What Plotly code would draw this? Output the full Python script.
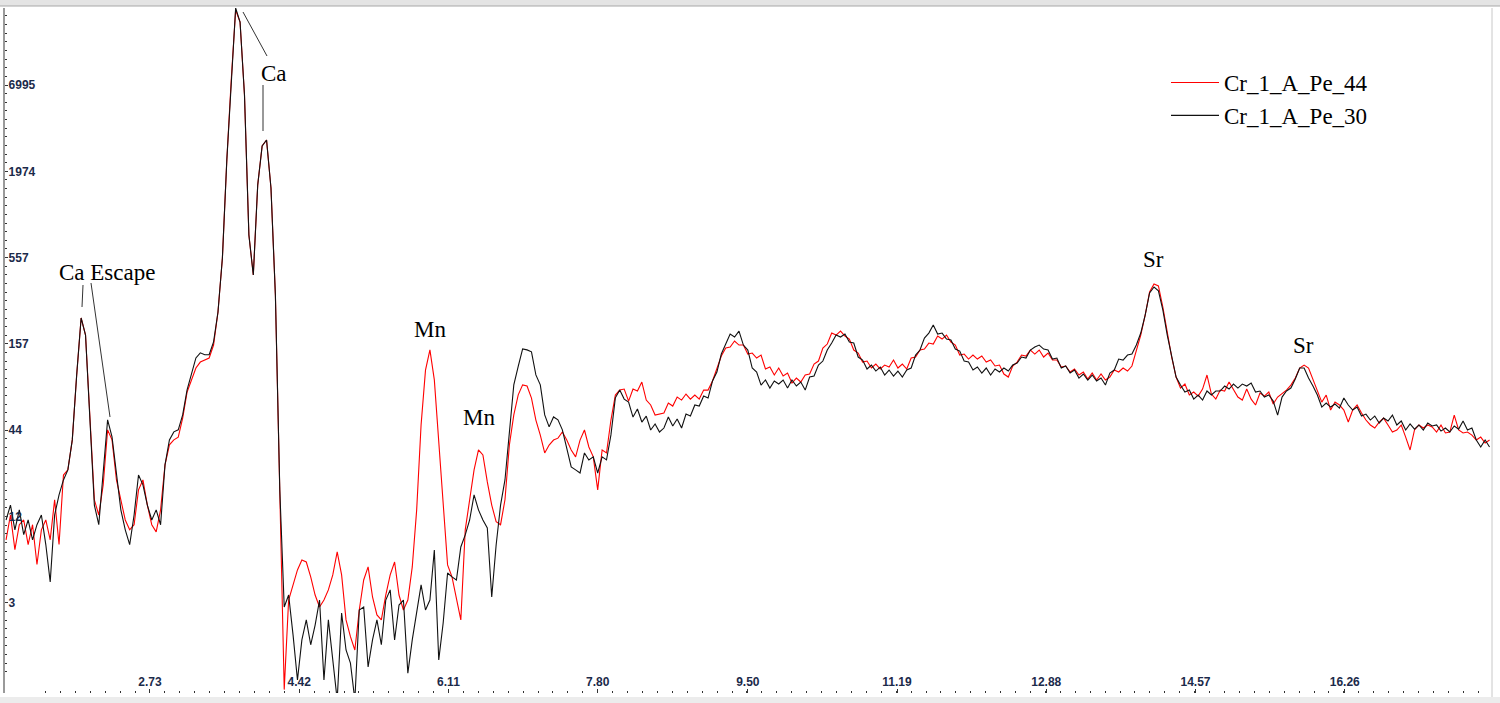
import numpy as np
import plotly.graph_objects as go

# ── spectrum channels (keV) ───────────────────────────────────────────────
E_START = 1.10
E_STEP = 0.05

# counts, sample Cr_1_A_Pe_30 (black)
PE_30 = [
    11.9, 14.8, 10.3, 13.8, 9.6, 11.9, 8.9, 11.1, 12.8, 8.3, 4.8, 12.8, 17.2, 21.4,
    24.8, 38.5, 100, 230, 179, 48.0, 14.8, 11.1, 23.0, 51.6, 40.2, 23.0, 13.8, 10.3,
    8.3, 12.8, 23.0, 19.9, 14.8, 11.9, 13.8, 11.1, 26.7, 38.5, 43.3, 44.6, 55.5, 80.1,
    99.8, 128, 138, 134, 134, 162, 251, 554, 2330, 7527, 21630, 17617, 6041, 776,
    432, 1615, 2861, 3124, 1546, 322, 18.5, 3.32, 3.96, 2.21, 1.14, 2.05, 2.75, 1.91,
    2.55, 3.68, 1.14, 2.75, 1.53, 0.85, 3.04, 1.77, 1.46, 0.85, 3.18, 3.32, 1.38, 2.05,
    2.75, 1.91, 3.68, 4.27, 2.05, 3.42, 3.68, 1.26, 2.05, 3.04, 4.59, 3.18, 3.68, 7.67,
    1.53, 2.63, 5.47, 5.17, 4.94, 8.01, 9.56, 11.9, 17.2, 13.8, 11.9, 10.6, 3.85, 8.25,
    14.8, 21.4, 44.6, 86.2, 113, 146, 144, 140, 99.8, 86.2, 55.5, 46.6, 53.9, 51.6,
    44.6, 33.2, 25.9, 24.8, 23.7, 31.8, 28.7, 30.0, 23.7, 30.0, 28.7, 41.4, 71.3, 80.1,
    70.0, 67.0, 53.8, 60.5, 50.0, 54.6, 44.5, 48.6, 43.2, 45.8, 53.8, 47.2, 52.3, 45.8,
    56.2, 54.6, 64.2, 63.2, 73.2, 71.1, 91.2, 104.1, 135.5, 156.9, 181.7, 173.9, 189.8, 154.6,
    143.7, 110.4, 104.1, 86.0, 92.6, 82.3, 91.2, 87.3, 92.6, 82.3, 92.6, 84.8, 89.9, 79.9,
    96.7, 98.2, 115.3, 122.3, 143.7, 159.2, 179.0, 173.9, 181.7, 161.6, 159.2, 129.7, 124.1, 108.8,
    115.3, 105.6, 112.0, 99.6, 107.2, 98.2, 105.6, 96.7, 107.2, 110.4, 133.5, 143.7, 171.3, 184.3,
    207.3, 181.7, 184.3, 168.8, 166.4, 145.8, 141.6, 122.3, 120.5, 107.2, 112.0, 102.6, 110.4, 99.6,
    108.8, 104.1, 110.4, 105.6, 115.3, 118.8, 129.7, 127.8, 143.7, 150.2, 154.6, 145.8, 143.7, 125.9,
    127.8, 110.4, 113.7, 102.6, 107.2, 95.3, 101.1, 92.6, 99.6, 91.2, 95.3, 86.0, 102.6, 107.2,
    125.9, 124.1, 133.5, 135.5, 154.6, 184.3, 240, 332, 362, 342, 259, 179.0, 127.8, 96.7,
    86.0, 77.6, 79.9, 70.0, 74.3, 69.0, 78.8, 74.3, 78.8, 78.8, 84.8, 81.1, 87.3, 82.3,
    87.3, 84.8, 88.6, 77.6, 78.8, 72.1, 74.3, 68.0, 55.4, 72.1, 78.8, 82.3, 93.9, 110.4,
    110.4, 95.3, 84.8, 74.3, 62.3, 66.1, 62.3, 65.1, 61.4, 71.1, 64.2, 59.6, 62.3, 54.6,
    56.2, 51.5, 54.6, 49.3, 53.0, 50.8, 55.4, 47.9, 50.8, 44.5, 48.6, 45.1, 47.9, 44.5,
    49.3, 47.2, 47.9, 43.8, 45.8, 43.2, 47.2, 45.1, 50.8, 44.5, 45.8, 38.4, 34.7, 38.4, 34.7,
]

# counts, sample Cr_1_A_Pe_44 (red)
PE_44 = [
    8.9, 12.8, 7.7, 11.1, 11.9, 8.3, 11.1, 6.2, 10.3, 11.9, 8.9, 16.0, 8.3, 23.0,
    24.8, 38.5, 100, 230, 179, 48.0, 16.0, 12.8, 19.9, 44.6, 38.5, 21.4, 16.0, 11.9,
    10.3, 11.1, 18.5, 21.4, 14.8, 11.1, 10.0, 13.8, 26.7, 35.8, 38.5, 40.1, 53.0, 77.6,
    92.6, 110.4, 120.5, 124.1, 127.8, 154.6, 251, 554, 2330, 7527, 21005, 17617, 6041, 776,
    432, 1615, 2861, 3124, 1546, 322, 21.4, 0.99, 3.68, 4.59, 5.72, 6.62, 6.43, 5.17,
    3.96, 3.32, 3.68, 4.27, 5.32, 7.45, 5.32, 2.75, 2.15, 1.77, 3.18, 4.94, 5.98, 3.85,
    2.96, 2.75, 3.96, 5.32, 6.43, 3.96, 3.18, 3.68, 5.98, 13.8, 48.0, 107, 144, 92.8,
    35.8, 13.8, 6.16, 5.17, 3.68, 2.75, 10.3, 16.0, 24.8, 33.2, 30.9, 20.8, 14.8, 11.6,
    11.1, 16.0, 35.8, 55.5, 74.5, 86.2, 84.8, 71.1, 51.5, 41.3, 31.8, 35.7, 38.4, 39.5,
    43.2, 38.4, 33.2, 30.0, 38.4, 44.5, 34.7, 30.0, 18.5, 33.2, 31.8, 51.5, 74.3, 79.9,
    81.1, 68.0, 81.1, 78.8, 89.9, 69.0, 64.2, 55.4, 56.2, 57.1, 66.1, 63.2, 72.1, 69.0,
    75.4, 70.0, 74.3, 70.0, 79.9, 79.9, 91.2, 110.4, 131.6, 148.0, 150.2, 164.0, 154.6, 154.6,
    135.5, 137.5, 127.8, 133.5, 108.8, 112.0, 99.6, 110.4, 98.2, 102.6, 88.6, 95.3, 89.9, 99.6,
    101.1, 117.0, 122.3, 148.0, 156.9, 184.3, 179.0, 189.8, 176.4, 168.8, 143.7, 137.5, 120.5, 122.3,
    110.4, 117.0, 108.8, 115.3, 112.0, 124.1, 110.4, 117.0, 108.8, 127.8, 129.7, 143.7, 145.8, 159.2,
    156.9, 176.4, 168.8, 179.0, 161.6, 154.6, 133.5, 135.5, 125.9, 133.5, 125.9, 131.6, 120.5, 124.1,
    113.7, 115.3, 101.1, 96.7, 113.7, 120.5, 133.5, 131.6, 143.7, 135.5, 143.7, 129.7, 137.5, 124.1,
    124.1, 112.0, 113.7, 104.1, 108.8, 99.6, 104.1, 93.9, 102.6, 92.6, 101.1, 92.6, 96.7, 107.2,
    104.1, 110.4, 105.6, 113.7, 143.7, 179.0, 240, 337, 378, 368, 270, 184.3, 129.7, 96.7,
    82.3, 87.3, 74.3, 77.6, 73.2, 81.1, 99.6, 75.4, 70.0, 79.9, 78.8, 89.9, 81.1, 72.1,
    69.0, 81.1, 70.0, 64.2, 76.5, 73.2, 77.6, 65.1, 72.1, 75.4, 79.9, 86.0, 95.3, 110.4,
    115.3, 110.4, 92.6, 77.6, 67.0, 74.3, 59.6, 67.0, 64.2, 59.6, 50.0, 59.6, 64.2, 57.1,
    51.5, 47.9, 45.8, 50.0, 53.0, 47.9, 43.2, 44.5, 47.9, 40.1, 33.2, 44.5, 47.9, 45.8,
    47.9, 46.5, 43.2, 47.9, 42.6, 43.2, 55.4, 44.5, 42.6, 43.2, 41.3, 38.4, 40.1, 36.8, 38.4,
]

# axis ticks as shown by the instrument software
X_TICKS = [2.73, 4.42, 6.11, 7.80, 9.50, 11.19, 12.88, 14.57, 16.26]
Y_TICKS = [6995, 1974, 557, 157.2, 44.36, 12.52, 3.533]
Y_LABELS = ["6995", "1974", "557", "157", "44", "12", "3"]

# peak labels: (text, pixel x, pixel y)
PEAKS = [("Ca Escape", 107, 272), ("Ca", 274, 73), ("Mn", 430, 329),
         ("Mn", 479, 417), ("Sr", 1153, 259), ("Sr", 1303, 345)]
LEADERS = [(83, 285, 82, 307), (91, 283, 110, 417),
           (243, 12, 267, 56), (263, 85, 263, 131)]

W, H = 1500, 703
L, T, R_, B_ = 5, 8, 10, 10
PW, PH = W - L - R_, H - T - B_


def px(x):
    return (x - L) / PW


def py(y):
    return (H - B_ - y) / PH


def energies(n):
    return np.round(E_START + E_STEP * np.arange(n), 3)


RED = "#FF0000"
BLACK = "#111111"
TICK = "#1b2a4a"
SERIF = "Liberation Serif, Times New Roman, serif"

fig = go.Figure()
fig.add_trace(go.Scatter(
    x=energies(len(PE_44)), y=PE_44, name="Cr_1_A_Pe_44", legendgroup="a",
    mode="lines", line=dict(color=RED, width=1.1),
))
fig.add_trace(go.Scatter(
    x=energies(len(PE_30)), y=PE_30, name="Cr_1_A_Pe_30", legendgroup="b",
    mode="lines", line=dict(color=BLACK, width=1.1),
))

# minor tick positions (decoration only)
y_minor = [6995 * 3.5436 ** (-k / 10) for k in range(-12, 80)]
x_minor = [round(1.04 + 0.169 * k, 3) for k in range(0, 101)]

shapes = []
for x0, y0, x1, y1 in LEADERS:
    shapes.append(dict(type="line", xref="paper", yref="paper",
                       x0=px(x0), y0=py(y0), x1=px(x1), y1=py(y1),
                       line=dict(color="#333333", width=1)))
# toolbar strip on top, scrollbar at bottom, right frame
shapes.append(dict(type="rect", xref="paper", yref="paper", layer="above",
                   x0=px(0), x1=px(W), y0=py(0), y1=py(6),
                   fillcolor="#e4e4e4", line=dict(width=0)))
shapes.append(dict(type="line", xref="paper", yref="paper",
                   x0=px(0), x1=px(W), y0=py(6), y1=py(6),
                   line=dict(color="#a8a8a8", width=1)))
shapes.append(dict(type="rect", xref="paper", yref="paper", layer="above",
                   x0=px(0), x1=px(W), y0=py(697), y1=py(H),
                   fillcolor="#ececec", line=dict(width=0)))
shapes.append(dict(type="line", xref="paper", yref="paper",
                   x0=px(1492), x1=px(1492), y0=py(8), y1=py(697),
                   line=dict(color="#c8c8c8", width=1)))

annotations = [
    dict(text=t, x=px(x), y=py(y), xref="paper", yref="paper",
         showarrow=False, xanchor="center", yanchor="middle",
         font=dict(family=SERIF, size=23, color="#000000"))
    for t, x, y in PEAKS
]

fig.update_layout(
    width=W, height=H,
    margin=dict(l=L, r=R_, t=T, b=B_),
    paper_bgcolor="white", plot_bgcolor="white",
    shapes=shapes, annotations=annotations,
    showlegend=True,
    legend=dict(x=px(1166), y=py(61), xanchor="left", yanchor="top",
                bgcolor="rgba(0,0,0,0)", itemwidth=48, tracegroupgap=0,
                font=dict(family=SERIF, size=23, color="#000000")),
    xaxis=dict(
        range=[1.088, 17.905], showgrid=False, zeroline=False,
        showline=False, ticks="inside", ticklen=4, tickcolor="#333",
        tickvals=X_TICKS, ticktext=[f"{v:.2f}" for v in X_TICKS],
        ticklabelposition="inside",
        tickfont=dict(family="Liberation Sans, Arial", size=12,
                      color=TICK, weight="bold"),
        minor=dict(tickvals=x_minor, ticks="inside", ticklen=2,
                   tickcolor="#333"),
    ),
    yaxis=dict(
        type="log", range=[-0.026, 4.335], showgrid=False, zeroline=False,
        showline=True, linecolor="#9a9a9a", linewidth=2,
        ticks="inside", ticklen=3, tickcolor="#333",
        tickvals=Y_TICKS, ticktext=Y_LABELS,
        ticklabelposition="inside",
        tickfont=dict(family="Liberation Sans, Arial", size=12,
                      color=TICK, weight="bold"),
        minor=dict(tickvals=y_minor, ticks="inside", ticklen=2,
                   tickcolor="#333"),
    ),
)

# the page's default body margin would push the chart 8px right and down
fig.write_html("out.html", config=dict(displayModeBar=False),
               post_script="document.body.style.margin='0';"
                           "document.body.style.overflow='hidden';")
